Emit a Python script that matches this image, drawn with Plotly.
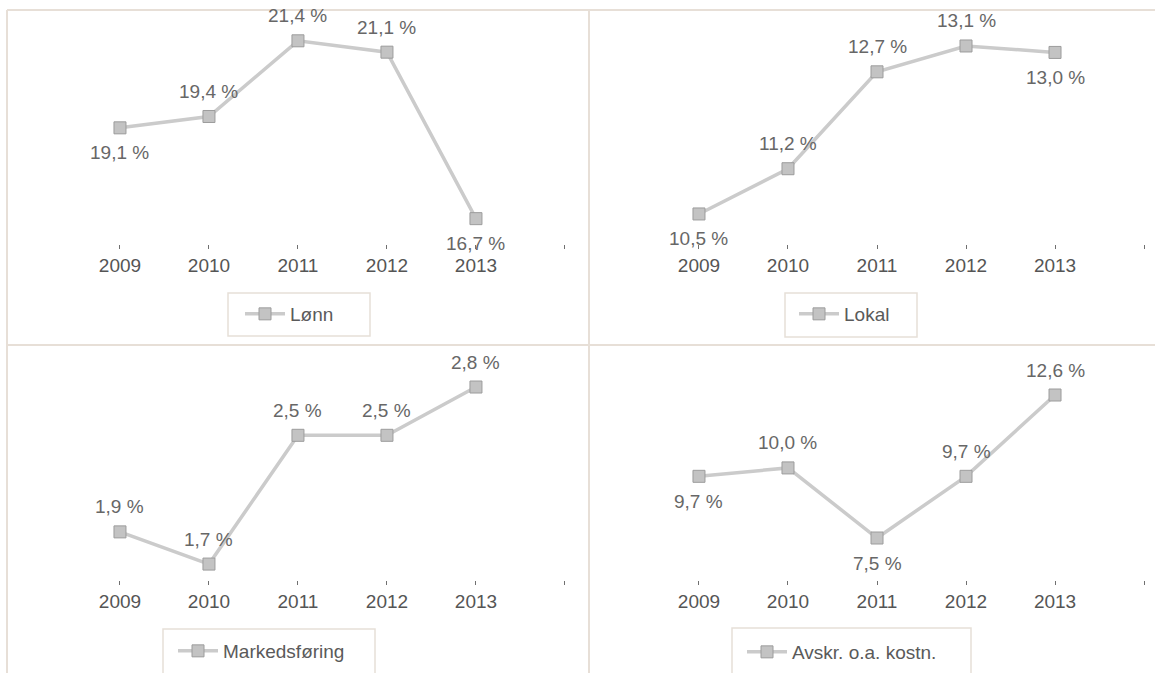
import plotly.graph_objects as go

W, H = 1155, 673

years = [2009, 2010, 2011, 2012, 2013]
year_labels = ["2009", "2010", "2011", "2012", "2013"]

names = ["Lønn", "Lokal", "Markedsføring", "Avskr. o.a. kostn."]
lonn = [19.1, 19.4, 21.4, 21.1, 16.7]
lokal = [10.5, 11.2, 12.7, 13.1, 13.0]
markedsforing = [1.9, 1.7, 2.5, 2.5, 2.8]
avskr = [9.7, 10.0, 7.5, 9.7, 12.6]

# label placement: 1 = above marker, -1 = below marker
lonn_pos = [-1, 1, 1, 1, -1]
lokal_pos = [-1, 1, 1, 1, -1]
markedsforing_pos = [1, 1, 1, 1, 1]
avskr_pos = [-1, 1, -1, 1, 1]

series = [lonn, lokal, markedsforing, avskr]
positions = [lonn_pos, lokal_pos, markedsforing_pos, avskr_pos]

FONT = "Liberation Sans, Arial, sans-serif"
FS = 19
LINE_C = "#cbcbcb"
MARK_C = "#c3c3c3"
MARK_B = "#9c9c9c"
TEXT_C = "#676767"
TICK_C = "#555555"
BORDER_C = "#e7dfd7"


def px_x(p):
    return p / W


def px_y(p):
    return 1 - p / H


# panel layout: (x domain px, y domain px, x range, y range)
panels = [
    ((76, 580), (20, 244), (2008.506, 2014.169), (16.03, 21.95)),
    ((655, 1150), (20, 244), (2008.506, 2014.067), (10.035, 13.502)),
    ((76, 580), (355, 580), (2008.506, 2014.169), (1.601, 2.999)),
    ((655, 1150), (355, 580), (2008.506, 2014.067), (6.002, 14.027)),
]

# legend: (box x0, box x1, box y0, box y1, legend left px, text centre y px)
legends = [
    (228, 370, 293, 336, 240, 314),
    (785, 917, 293, 337, 794, 314),
    (163, 375, 629, 690, 173, 651),
    (732, 971, 628, 690, 742, 652),
]

fig = go.Figure()
layout = dict(
    width=W, height=H,
    margin=dict(l=0, r=0, t=0, b=0, autoexpand=False),
    paper_bgcolor="white", plot_bgcolor="rgba(0,0,0,0)",
    font=dict(family=FONT, size=FS, color=TICK_C),
    showlegend=True,
)
shapes = []
annotations = []

for i, (vals, pos, name) in enumerate(zip(series, positions, names)):
    n = i + 1
    xa = "x" if n == 1 else f"x{n}"
    ya = "y" if n == 1 else f"y{n}"
    lg = "legend" if n == 1 else f"legend{n}"
    fig.add_trace(go.Scatter(
        x=years, y=vals, name=name, mode="lines+markers",
        xaxis=xa, yaxis=ya, legend=lg,
        line=dict(color=LINE_C, width=3.5),
        marker=dict(symbol="square", size=12, color=MARK_C,
                    line=dict(color=MARK_B, width=1)),
        hoverinfo="skip",
    ))
    (dx0, dx1), (dy0, dy1), xr, yr = panels[i]
    layout[f"xaxis{'' if n == 1 else n}"] = dict(
        domain=[px_x(dx0), px_x(dx1)], range=list(xr), anchor=ya,
        tickvals=years + [2014], ticktext=year_labels + [""],
        showgrid=False, zeroline=False, showline=False,
        ticks="outside", ticklen=4, tickwidth=1, tickcolor="#707070",
        tickfont=dict(family=FONT, size=FS, color=TICK_C),
    )
    layout[f"yaxis{'' if n == 1 else n}"] = dict(
        domain=[px_y(dy1), px_y(dy0)], range=list(yr), anchor=xa,
        visible=False,
    )
    for xv, yv, p in zip(years, vals, pos):
        annotations.append(dict(
            x=xv, y=yv, xref=xa, yref=ya,
            text=f"{yv:.1f} %".replace(".", ","),
            showarrow=False, yshift=25 * p,
            xanchor="center", yanchor="middle",
            font=dict(family=FONT, size=FS, color=TEXT_C),
        ))
    bx0, bx1, by0, by1, lx, ly = legends[i]
    shapes.append(dict(type="rect", xref="paper", yref="paper",
                       x0=px_x(bx0), x1=px_x(bx1), y0=px_y(by1), y1=px_y(by0),
                       line=dict(color="#e6e0d8", width=1.5),
                       fillcolor="rgba(0,0,0,0)", layer="below"))
    layout[lg] = dict(
        x=px_x(lx), y=px_y(ly), xanchor="left", yanchor="middle",
        xref="paper", yref="paper", itemwidth=40,
        bgcolor="rgba(0,0,0,0)", borderwidth=0,
        font=dict(family=FONT, size=FS, color="#5a5a5a"),
        itemclick=False, itemdoubleclick=False,
    )

# panel dividers
for x0, y0, x1, y1 in [(7, 10, 1155, 10), (7, 10, 7, 673),
                       (589, 10, 589, 673), (7, 345, 1155, 345)]:
    shapes.append(dict(type="line", xref="paper", yref="paper",
                       x0=px_x(x0), y0=px_y(y0), x1=px_x(x1), y1=px_y(y1),
                       line=dict(color=BORDER_C, width=2), layer="below"))

layout["shapes"] = shapes
layout["annotations"] = annotations
fig.update_layout(**layout)
fig.write_html(
    "out.html",
    config={"displayModeBar": False},
    post_script="document.body.style.margin='0';document.body.style.overflow='hidden';",
)
